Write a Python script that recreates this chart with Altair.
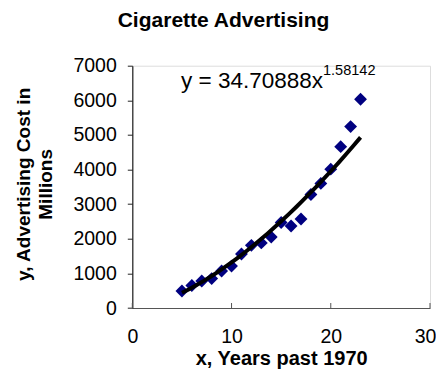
import altair as alt
import pandas as pd

# Data
years = [5, 6, 7, 8, 9, 10, 11, 12, 13, 14, 15, 16, 17, 18, 19, 20, 21, 22, 23]
cost = [490, 650, 780, 850, 1070, 1210, 1560, 1810, 1880, 2050, 2470, 2370,
        2570, 3280, 3600, 4010, 4660, 5240, 6030]
x_ticks = [0, 10, 20, 30]
y_ticks = [0, 1000, 2000, 3000, 4000, 5000, 6000, 7000]
chart_title = "Cigarette Advertising"
eq_main = "y = 34.70888x"
eq_exp = "1.58142"

FONT = "Liberation Sans"
W, H = 297.7, 242.3

df = pd.DataFrame({"x": years, "y": cost})
ticks_df = pd.DataFrame({"t": x_ticks})
eq_df = pd.DataFrame({"x": [19.22], "y": [6348], "y2": [6732],
                      "main": [eq_main], "exp": [eq_exp]})
title_df = pd.DataFrame({"t": [chart_title]})

xscale = alt.Scale(domain=[0, 30], nice=False, zero=False)
yscale = alt.Scale(domain=[0, 7000], nice=False)

xaxis = alt.Axis(values=x_ticks, grid=False, ticks=False, tickSize=0,
                 labelPadding=19, labelFontSize=19.5, labelFont=FONT,
                 labelColor="black", domainColor="#555555", domainWidth=1.2,
                 labelFlush=False, labelOverlap=False, format="d",
                 labelOffset={"expr": "datum.value == 30 ? -5 : 0"},
                 title="x, Years past 1970", titleFont=FONT, titleFontSize=20,
                 titleFontWeight="bold", titleColor="black", titlePadding=3)
yaxis = alt.Axis(values=y_ticks, grid=False, tickSize=5, tickColor="#222222",
                 labelPadding=11, labelFontSize=19.5, labelFont=FONT,
                 labelColor="black", domainColor="#222222", domainWidth=1.2,
                 labelFlush=False, labelOverlap=False, format="d",
                 title=["y, Advertising Cost in", "Millions"], titleFont=FONT,
                 titleFontSize=19, titleFontWeight="bold", titleColor="black",
                 titleLineHeight=22, titleAngle=270, titleAlign="center",
                 titleBaseline="top", titleX=-118, titleY=H / 2 - 3)

points = alt.Chart(df).mark_point(
    shape="diamond", filled=True, size=165, color="#000080", opacity=1
).encode(
    x=alt.X("x:Q", scale=xscale, axis=xaxis),
    y=alt.Y("y:Q", scale=yscale, axis=yaxis),
)

trend = alt.Chart(df).transform_regression(
    "x", "y", method="pow", extent=[5, 23]
).mark_line(color="black", strokeWidth=4).encode(
    x=alt.X("x:Q", scale=xscale, axis=xaxis),
    y=alt.Y("y:Q", scale=yscale, axis=yaxis),
)

xt = alt.Chart(ticks_df).mark_rule(color="#555555", strokeWidth=1).encode(
    x=alt.X("t:Q", scale=xscale, axis=xaxis),
    y=alt.value(H),
    y2=alt.value(H - 5),
)

eq_text = alt.Chart(eq_df).mark_text(
    align="right", baseline="alphabetic", font=FONT, fontSize=22.5, color="black"
).encode(x=alt.X("x:Q", scale=xscale, axis=xaxis),
         y=alt.Y("y:Q", scale=yscale, axis=yaxis), text="main:N")

exp_text = alt.Chart(eq_df).mark_text(
    align="left", baseline="alphabetic", font=FONT, fontSize=14.5, color="black"
).encode(x=alt.X("x:Q", scale=xscale, axis=xaxis),
         y=alt.Y("y2:Q", scale=yscale, axis=yaxis), text="exp:N")

title_text = alt.Chart(title_df).mark_text(
    align="center", baseline="middle", font=FONT, fontSize=21,
    fontWeight="bold", color="black"
).encode(x=alt.value(91.2), y=alt.value(-44.5), text="t:N")

chart = alt.layer(points, trend, xt, eq_text, exp_text, title_text).properties(
    width=W, height=H,
    autosize=alt.AutoSizeParams(type="none"),
    padding={"left": 124.3, "top": 57.7, "right": 6, "bottom": 61},
).configure_view(stroke=None).configure(background="white")

chart.save("out.html", embed_options={"renderer": "svg", "actions": False})
